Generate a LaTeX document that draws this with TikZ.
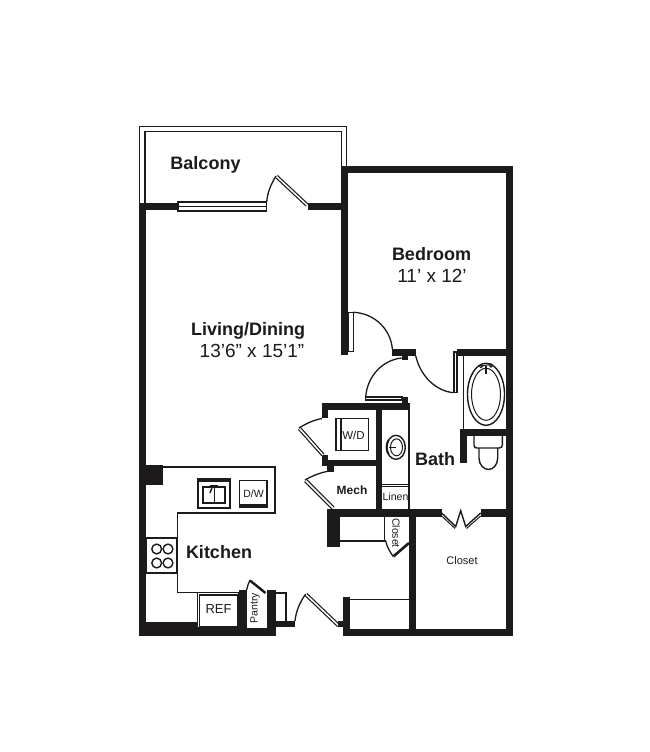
\documentclass[tikz,border=0pt]{standalone}
\usepackage{fontspec}
\setmainfont{Liberation Sans}
\definecolor{ink}{HTML}{1C1A1B}
\tikzset{
  wall/.style={fill=ink,draw=none},
  thin/.style={draw=ink,line width=1.4pt},
  hair/.style={draw=ink,line width=1pt},
  swing/.style={draw=ink,line width=1.3pt},
  panel/.style={draw=ink,double=white,double distance=1.5pt,line width=1.2pt},
  room/.style={font=\bfseries\fontsize{18}{20}\selectfont,text=ink,inner sep=0pt},
  dim/.style={font=\fontsize{19}{20}\selectfont,text=ink,inner sep=0pt},
  lab/.style={font=\fontsize{11}{12}\selectfont,text=ink,inner sep=0pt},
}
\begin{document}
\begin{tikzpicture}[x=1pt,y=-1pt]
\useasboundingbox (0,0) rectangle (650,752);
% balcony rails
\draw[thin] (139.5,203) -- (139.5,126.5) -- (346.5,126.5) -- (346.5,166);
\draw[thin] (145,203) -- (145,131.5) -- (341.5,131.5) -- (341.5,166);
% outer walls
\fill[wall] (138.5,202.5) rectangle (146,636);
\fill[wall] (138.5,202.5) rectangle (178,209.5);
\fill[wall] (308,202.5) rectangle (347.5,209.5);
\fill[wall] (341,166) rectangle (348,355);
\fill[wall] (341,166) rectangle (513,173);
\fill[wall] (506,166) rectangle (513,636);
\fill[wall] (138.5,622) rectangle (197,636);
\fill[wall] (197,628) rectangle (275.7,636);
\fill[wall] (343.3,629) rectangle (513,636);
\fill[wall] (146,465) rectangle (163,485);
% balcony window and door
\draw[thin,fill=white] (178,202) rectangle (266.5,211);
\draw[hair] (178,206.5) -- (266.5,206.5);
\draw[panel] (307,205) -- (276.5,176.5);
\draw[swing] (276,176) .. controls (270,186) and (267.5,193) .. (266.7,202);
% bedroom door
\draw[thin,fill=white] (348,312.5) rectangle (353.3,351.5);
\draw[swing] (353,312.3) .. controls (375,313) and (391,330) .. (392.3,349);
\fill[wall] (392,348.5) rectangle (415.7,355.7);
\fill[wall] (401.7,355) rectangle (408,360);
% hall door to bath
\draw[swing] (401.7,358) .. controls (382,360) and (367,377) .. (365.7,397);
\draw[thin,fill=white] (365.7,396.8) rectangle (402,399.8);
\fill[wall] (401.7,397) rectangle (408,410);
% bath door
\draw[swing] (415.7,355.7) .. controls (420,375) and (435,391) .. (453.5,392.7);
\draw[thin,fill=white] (454,352) rectangle (457,392.7);
\fill[wall] (456.7,349) rectangle (506,355.7);
% tub
\draw[hair] (463.3,355) -- (463.3,430);
\draw[thin] (486,394.3) ellipse [x radius=18.5,y radius=31];
\draw[hair] (486,394.3) ellipse [x radius=14.5,y radius=26];
\draw[line width=1.5pt,draw=ink] (486,366) -- (486,374);
\draw[hair] (481,366) -- (491,364.5);
\draw[hair] (481,366) circle [radius=1.6];
\draw[hair] (491,365.5) circle [radius=1.6];
\fill[wall] (460,429.3) rectangle (506,436);
\fill[wall] (460,436) rectangle (467.3,463.3);
% toilet
\draw[thin] (474,436) -- (474,445) .. controls (474,447.5) and (475,448) .. (477,448) -- (499,448) .. controls (501.5,448) and (502.3,447) .. (502.3,445) -- (502.3,436);
\draw[thin] (479,448) -- (479,458) .. controls (479,465) and (484,469.5) .. (488.5,469.5) .. controls (493,469.5) and (497.7,465) .. (497.7,458) -- (497.7,448);
% laundry block
\fill[wall] (321.7,403) rectangle (408,410);
\fill[wall] (321.7,403) rectangle (328.3,418);
\fill[wall] (322,455) rectangle (328.3,466);
\fill[wall] (322,460) rectangle (382,466);
\fill[wall] (376,403) rectangle (382.3,516);
\fill[wall] (327,466) rectangle (334,471.7);
\draw[panel] (323,455) -- (299.5,428.5);
\draw[swing] (299,428) .. controls (307,423) and (314,420) .. (322,418.5);
\draw[thin] (336,418.3) rectangle (368.3,450.7);
\draw[thin] (341,418.3) -- (341,450.7);
% mech door
\draw[panel] (333,508) -- (305.5,480.5);
\draw[swing] (305,480) .. controls (312,476) and (319,473) .. (327,471.5);
% linen and vanity
\draw[thin] (409,403) -- (409,510);
\draw[hair] (382,484) -- (409,484);
\draw[hair] (382,486) -- (409,486);
\draw[thin] (396,447.3) ellipse [x radius=9.3,y radius=12];
\draw[hair] (396.5,447.3) ellipse [x radius=6,y radius=8.5];
\draw[line width=2pt,draw=ink] (388.5,440) .. controls (386,445) and (386,450) .. (388.5,454);
\draw[hair] (389,447.3) -- (396,447.3);
% walls at mid plan
\fill[wall] (327.3,509) rectangle (441.7,516.7);
\fill[wall] (480.7,509) rectangle (513,516.7);
\fill[wall] (327.3,509) rectangle (340,546.7);
\fill[wall] (409,510) rectangle (415.7,636);
% bifold door
\draw[thin] (441.7,513) -- (455.7,526.5) -- (460.7,510.7) -- (465.7,526.5) -- (480.7,513);
\draw[hair] (441.7,516) -- (455,528.5);
\draw[hair] (480.7,516) -- (466.5,528.5);
% closet under linen
\draw[thin] (340,541) -- (385.7,541);
\draw[thin] (384.3,516) -- (384.3,541);
\draw[swing] (385.7,541) .. controls (387,547) and (390,552) .. (393.3,556.5);
\draw[draw=ink,line width=2.6pt] (393.3,556.5) -- (409,543);
% kitchen counters
\draw[thin] (163,467) -- (275,467) -- (275,513) -- (177.7,513) -- (177.7,592.7) -- (197,592.7);
% sink
\draw[thin] (198,479) rectangle (230,508);
\fill[wall] (198,479) rectangle (230,482);
\draw[thin] (203,487) rectangle (225,503);
\draw[hair] (214,487) -- (214,503);
\draw[hair] (210,485) -- (218,485);
\draw[line width=1.4pt,draw=ink] (213,485) -- (210,493);
% dishwasher
\draw[thin] (239.5,480.5) rectangle (267,507.5);
\fill[wall] (239,504) rectangle (267.3,508);
% stove
\draw[thin] (146,538) rectangle (176.7,573);
\foreach \cx/\cy in {156.7/549,168/549,156.7/563,168/563}{
  \draw[thin] (\cx,\cy) circle [radius=4.9];
}
% refrigerator
\draw[thin] (197.5,592.7) rectangle (239,628);
\draw[thin] (199.5,595) rectangle (237.3,627);
% pantry
\fill[wall] (239,590) rectangle (246.7,636);
\fill[wall] (266.7,590) rectangle (275.7,636);
\draw[draw=ink,line width=2.4pt] (250,580.5) -- (265.5,593);
\draw[swing] (250,580) .. controls (248.5,583) and (247.5,586) .. (246.7,590);
% small closet by entry
\draw[thin] (275.7,593) -- (286,593) -- (286,621);
\fill[wall] (275,620.7) rectangle (295,626.7);
% entry door
\draw[panel] (338.5,625.5) -- (306,594.5);
\draw[swing] (305.7,594) .. controls (300,602) and (296,611) .. (295,621);
\fill[wall] (343.3,596.7) rectangle (350,636);
\fill[wall] (338,620.7) rectangle (350,627);
\draw[thin] (350,599.3) -- (409,599.3);
% labels
\node[room] (balcony) at (205.5,165) {Balcony};
\node[room] (bedroom) at (431.5,254) {Bedroom};
\node[dim] (bedroomdim) at (432,276) {11’ x 12’};
\node[room] (living) at (248,331) {Living/Dining};
\node[dim] (livingdim) at (252,351) {13’6” x 15’1”};
\node[room] (bath) at (435,459) {Bath};
\node[room] (kitchen) at (219,552.5) {Kitchen};
\node[lab] (closetb) at (462,561) {Closet};
\node[lab,font=\fontsize{12}{13}\selectfont\bfseries] (mech) at (352,490.5) {Mech};
\node[lab,font=\fontsize{10.5}{11}\selectfont] (linen) at (395.5,497) {Linen};
\node[lab,font=\fontsize{10.5}{11}\selectfont,rotate=-90] (closets) at (396,533) {Closet};
\node[lab,font=\fontsize{10.5}{11}\selectfont,rotate=90] (pantry) at (255,608) {Pantry};
\node[lab,font=\fontsize{13}{13}\selectfont] (ref) at (218.5,609.5) {REF};
\node[lab,font=\fontsize{10.5}{11}\selectfont] (dw) at (253.5,494) {D/W};
\node[lab,font=\fontsize{11.5}{12}\selectfont] (wd) at (353.5,435.5) {W/D};
\end{tikzpicture}
\end{document}
